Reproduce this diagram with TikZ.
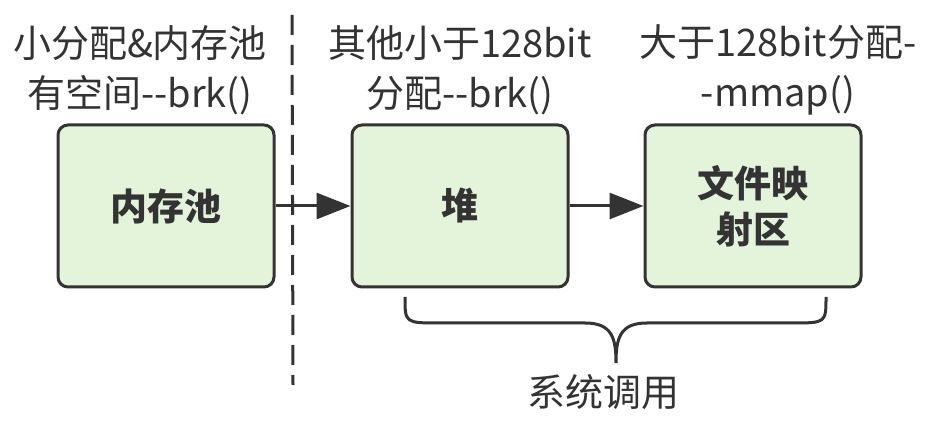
\documentclass[tikz,border=0pt]{standalone}
\usepackage{fontspec}
\setmainfont{Noto Sans CJK SC}
\usetikzlibrary{arrows.meta}
\definecolor{boxfill}{HTML}{E3F4DA}
\definecolor{ink}{HTML}{333333}
\tikzset{
  membox/.style={draw=ink, fill=boxfill, line width=3pt, rounded corners=10pt,
    minimum width=216pt, minimum height=162pt, inner sep=0pt,
    font=\fontsize{37}{46}\selectfont\bfseries, text=ink, align=center},
  toplabel/.style={font=\fontsize{38}{50}\selectfont, text=ink, align=center, inner sep=0pt},
  conn/.style={draw=ink, line width=3pt, -{Triangle[length=34pt,width=26pt]}}
}
\begin{document}
\begin{tikzpicture}[x=1pt,y=-1pt]
\useasboundingbox (0,0) rectangle (934,427);
\node[membox] (pool) at (166,206) {内存池};
\node[membox] (heap) at (460,206) {堆};
\node[membox] (mmap) at (753,206) {文件映\\射区};
\node[toplabel] (l1) at (140,70) {小分配\&内存池\\有空间-{}-brk()};
\node[toplabel] (l2) at (460,70) {其他小于128bit\\分配-{}-brk()};
\node[toplabel] (l3) at (778,70) {大于128bit分配-\\-mmap()};
\coordinate (dtop) at (292,15);
\coordinate (dbot) at (293,385);
\draw[draw=ink, line width=3pt, dash pattern=on 20pt off 10pt] (dtop) -- (dbot);
\draw[conn] (pool.east) -- (heap.west);
\draw[conn] (heap.east) -- (mmap.west);
\coordinate (bl) at (405,297);
\coordinate (br) at (826,297);
\coordinate (btip) at (616,363);
\draw[draw=ink, line width=3pt]
  (bl) .. controls (405,323) .. (440,323) -- (585,323)
  .. controls (612,323) and (616,338) .. (btip)
  .. controls (616,338) and (620,323) .. (647,323) -- (791,323)
  .. controls (826,323) .. (br);
\node[toplabel] (sys) at (603,392) {系统调用};
\end{tikzpicture}
\end{document}
